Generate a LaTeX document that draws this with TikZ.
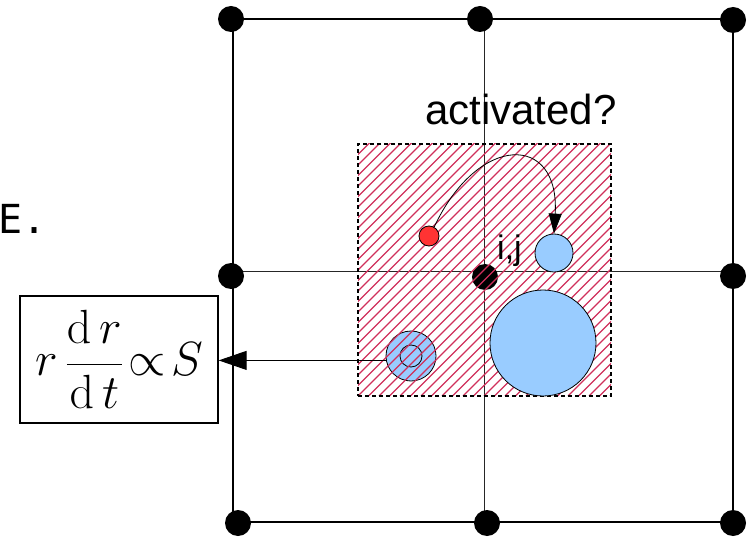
\RequirePackage{fix-cm}
\documentclass[tikz,border=0pt]{standalone}
\usepackage[no-math]{fontspec}
\setmainfont{Liberation Sans}
\newfontfamily\monofont{DejaVu Sans Mono}
\usetikzlibrary{arrows.meta}
\definecolor{lblue}{HTML}{99CCFF}
\definecolor{hatchred}{RGB}{208,48,92}
\definecolor{dotred}{HTML}{FF3333}
\begin{document}
\begin{tikzpicture}[x=1pt,y=-1pt,
  gridline/.style={line width=1.6pt},
  innerline/.style={line width=1pt,black!85},
  griddot/.style={circle,fill=black,minimum size=26pt,inner sep=0pt},
  bubble/.style={circle,draw=black,line width=0.8pt,fill=lblue,inner sep=0pt},
  hatchbox/.style={draw=black,dash pattern=on 4pt off 3pt,line width=1.3pt,
    minimum width=253pt,minimum height=252pt,inner sep=0pt},
  hatchline/.style={hatchred,line width=1.1pt},
  eqbox/.style={draw=black,line width=1.3pt,minimum width=198pt,minimum height=127pt,inner sep=0pt},
  arrowline/.style={line width=1pt,-{Triangle[length=28pt,width=19pt]}},
  curvearrow/.style={line width=0.8pt,-{Triangle[length=20pt,width=13pt]}}
]
\useasboundingbox (0,0) rectangle (752,537);
% grid corners
\coordinate (g00) at (233,19);  \coordinate (g10) at (484,19);  \coordinate (g20) at (733,19);
\coordinate (g01) at (233,272); \coordinate (g21) at (733,272);
\coordinate (g02) at (233,522); \coordinate (g12) at (484,522); \coordinate (g22) at (733,522);
\draw[gridline] (g00) -- (g20) -- (g22) -- (g02) -- cycle;
\draw[innerline] (g10) -- (g12);
\draw[innerline] (g01) -- (g21);
% grid dots
\node[griddot] (d00) at (231,19) {};
\node[griddot] (d10) at (480,19) {};
\node[griddot] (d20) at (733,20) {};
\node[griddot] (d01) at (231,276) {};
\node[griddot] (d11) at (485,277) {};
\node[griddot] (d21) at (733,276) {};
\node[griddot] (d02) at (238,523) {};
\node[griddot] (d12) at (487,523) {};
\node[griddot] (d22) at (733,523) {};
% ring (under hatch)
\node[bubble,minimum size=50pt] (ring) at (411,356) {};
\node[circle,draw=black,line width=0.8pt,minimum size=22pt,inner sep=0pt] (ringin) at (411,356) {};
% hatched region
\begin{scope}
  \clip (358,144) rectangle (611,396);
  \foreach \k in {0,...,50} {
    \draw[hatchline] (106+\k*10.5,396) -- ++(260,-260);
  }
\end{scope}
\node[hatchbox] (zone) at (484.5,270) {};
% bubbles
\node[bubble,minimum size=106pt] (big) at (543,343) {};
\node[bubble,minimum size=38pt] (sb) at (554,253) {};
\node[circle,draw=black,line width=0.8pt,fill=dotred,minimum size=20pt,inner sep=0pt] (red) at (429,236) {};
% arrows
\draw[curvearrow] (red.60) .. controls (478,133) and (560,133) .. (sb.north);
\node[eqbox] (eq) at (119,359.5) {\fontsize{48}{52}\selectfont$\displaystyle r\,\frac{\mathrm{d}\,r}{\mathrm{d}\,t}\!\propto\! S$};
\draw[arrowline] (ring.190) -- (ring.190 -| eq.east);
% texts
\node[anchor=base west,inner sep=0pt,font=\fontsize{42}{48}\selectfont] (act) at (425,125) {activated?};
\node[anchor=base west,inner sep=0pt,font=\fontsize{34}{40}\selectfont] (ij) at (497,260) {i,j};
\node[anchor=base west,inner sep=0pt,font=\monofont\fontsize{40}{46}\selectfont] (etxt) at (-2,234) {E.};
\end{tikzpicture}
\end{document}
